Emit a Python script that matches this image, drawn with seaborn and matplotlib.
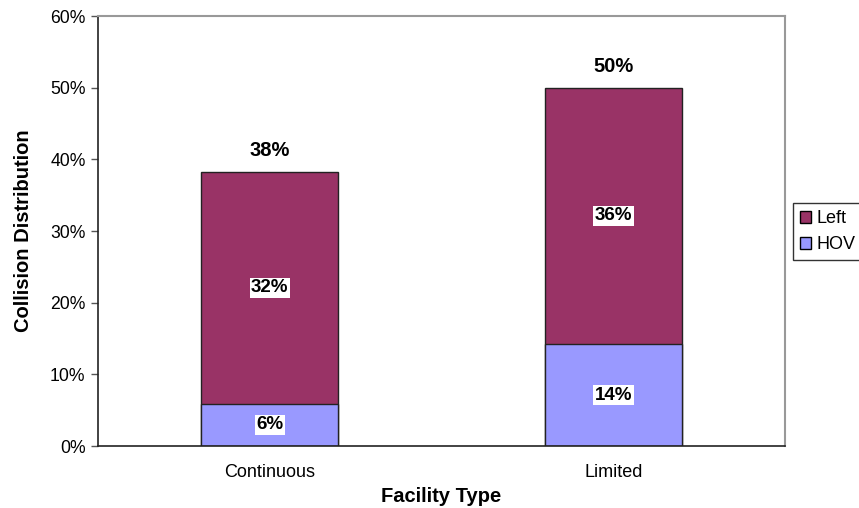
import matplotlib
matplotlib.use("Agg")
import matplotlib.pyplot as plt
import seaborn as sns
import pandas as pd
from matplotlib.ticker import FixedLocator, PercentFormatter
from matplotlib.patches import Patch

sns.set_style("white")
plt.rcParams["font.family"] = ["Liberation Sans", "DejaVu Sans"]
plt.rcParams["text.color"] = "black"
plt.rcParams["axes.labelcolor"] = "black"

# Collision shares (percent) by facility type
facility = ["Continuous", "Limited"]
hov = [5.9, 14.2]
left = [32.4, 35.8]
total = [h + l for h, l in zip(hov, left)]

df = pd.DataFrame({"Facility": facility, "HOV": hov, "Left": left, "Total": total})

LEFT_COLOR = "#993366"
HOV_COLOR = "#9999FF"

fig = plt.figure(figsize=(8.59, 5.08), dpi=100)
ax = fig.add_axes([0.1141, 0.122, 0.7998, 0.8465])

# stacked bars: full height in the Left colour, HOV drawn over the lower part
sns.barplot(data=df, x="Facility", y="Total", color=LEFT_COLOR, width=0.4,
            edgecolor="#222222", linewidth=1.0, saturation=1, ax=ax)
sns.barplot(data=df, x="Facility", y="HOV", color=HOV_COLOR, width=0.4,
            edgecolor="#222222", linewidth=1.0, saturation=1, ax=ax)

ax.set_xlim(-0.5, 1.5)
ax.set_ylim(0, 60)
ax.set_yticks(range(0, 61, 10))
ax.yaxis.set_major_formatter(PercentFormatter(decimals=0))
ax.xaxis.set_minor_locator(FixedLocator([-0.5, 0.5, 1.5]))
ax.tick_params(axis="x", which="major", length=0, pad=13, labelsize=13, colors="black")
ax.tick_params(axis="x", which="minor", length=5, width=1, color="#333333", direction="out")
ax.tick_params(axis="y", length=5, width=1, color="#555555", labelsize=12.7,
               labelcolor="black", left=True, pad=4)

for side in ["left", "bottom"]:
    ax.spines[side].set_color("#222222")
    ax.spines[side].set_linewidth(1.2)
for side in ["top", "right"]:
    ax.spines[side].set_color("#999999")
    ax.spines[side].set_linewidth(1.5)

ax.set_xlabel("Facility Type", fontsize=14.5, fontweight="bold", labelpad=4)
ax.set_ylabel("Collision Distribution", fontsize=14.5, fontweight="bold", labelpad=12)

box = dict(boxstyle="square,pad=0.08", facecolor="white", edgecolor="none")
for i in range(len(facility)):
    ax.text(i, hov[i] / 2, f"{hov[i]:.0f}%", ha="center", va="center",
            fontsize=13.5, fontweight="bold", bbox=box)
    ax.text(i, hov[i] + left[i] / 2, f"{left[i]:.0f}%", ha="center", va="center",
            fontsize=13.5, fontweight="bold", bbox=box)
    ax.annotate(f"{total[i]:.0f}%", xy=(i, total[i]), xytext=(0, 15),
                textcoords="offset points", ha="center", va="center",
                fontsize=14.5, fontweight="bold")

handles = [Patch(facecolor=LEFT_COLOR, edgecolor="black", label="Left"),
           Patch(facecolor=HOV_COLOR, edgecolor="black", label="HOV")]
fig.legend(handles=handles, loc="upper left", bbox_to_anchor=(793 / 859, 1 - 203 / 508),
           frameon=True, fancybox=False, edgecolor="black", fontsize=13,
           handlelength=0.6, handleheight=0.6, handletextpad=0.3,
           borderpad=0.4, labelspacing=0.5, borderaxespad=0)

fig.savefig("out.png", dpi=100)
